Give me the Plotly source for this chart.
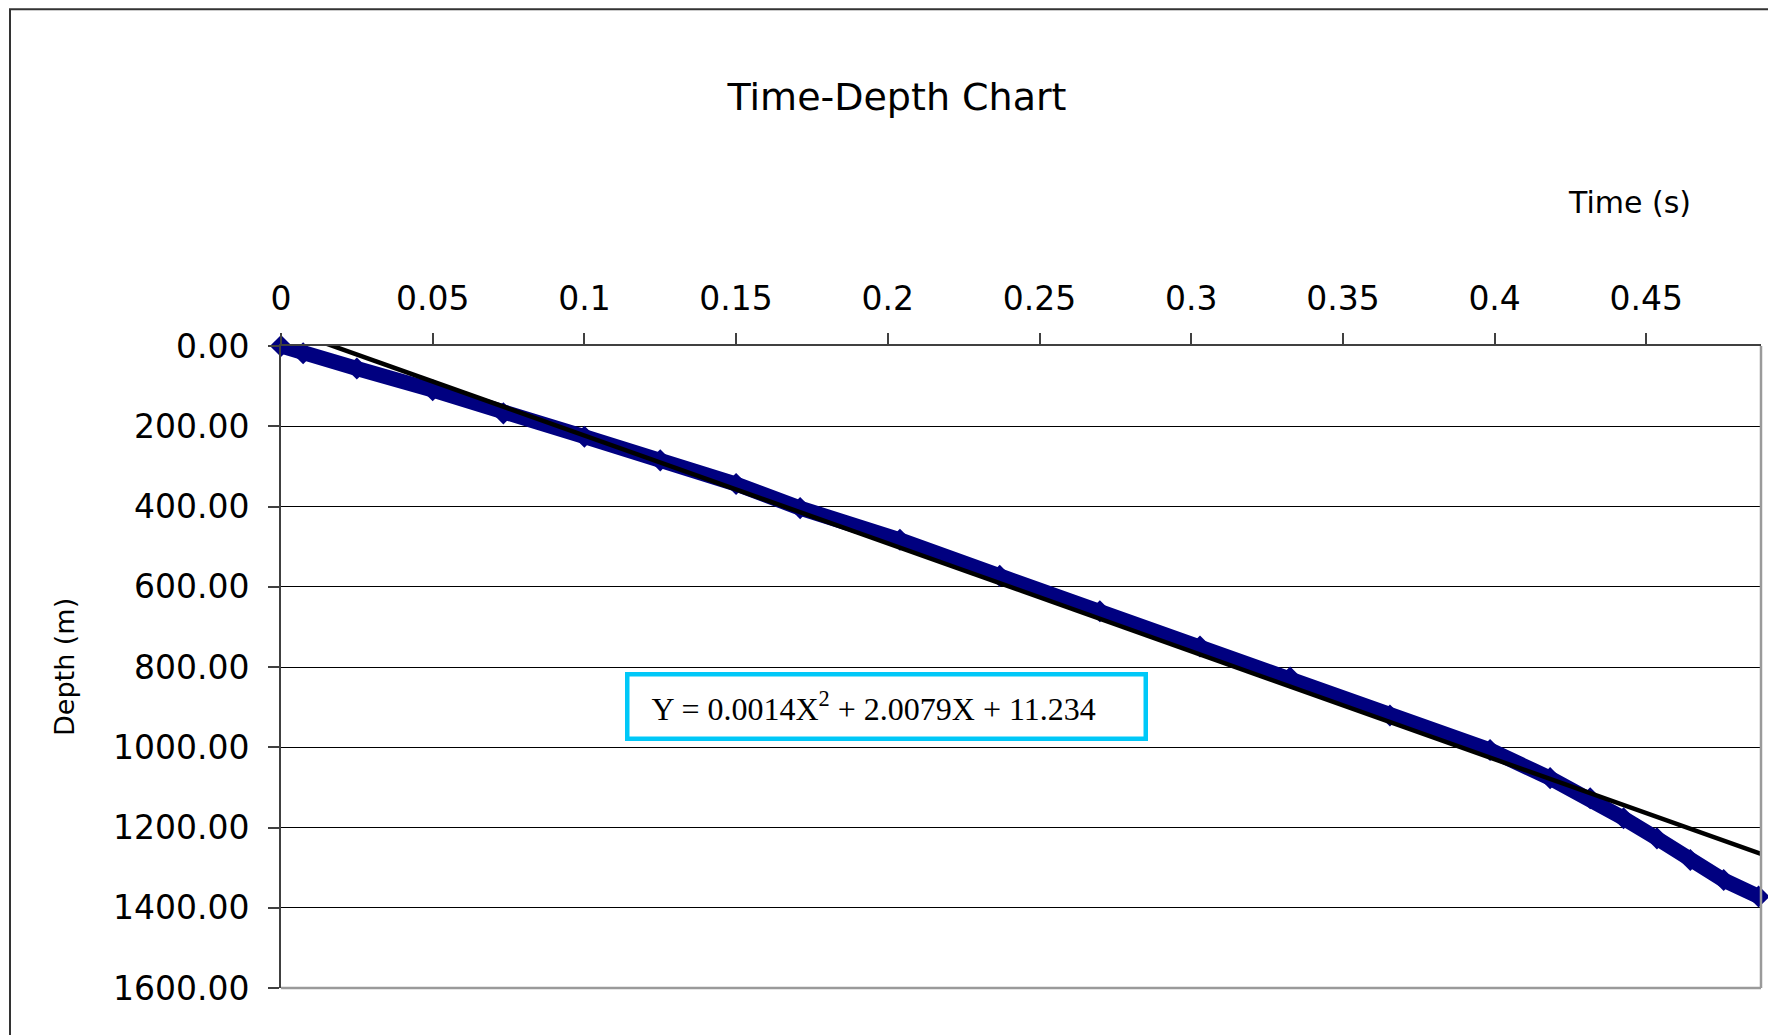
import plotly.graph_objects as go

# ---- data ----
time_s = [0.0, 0.0073, 0.025, 0.05, 0.0733, 0.1, 0.125, 0.15, 0.1711, 0.204,
          0.2369, 0.2699, 0.3029, 0.3326, 0.3655, 0.3985, 0.4183, 0.4315,
          0.4425, 0.4535, 0.4645, 0.4755, 0.487]
depth_m = [0, 18, 56, 110, 168, 226, 285, 344, 404, 483,
           573, 661, 749, 826, 921, 1007, 1077, 1127,
           1177, 1227, 1281, 1331, 1372]

trend_time = [0.0, 0.4878]
trend_depth = [-46, 1266]

x_tick_vals = [0, 0.05, 0.1, 0.15, 0.2, 0.25, 0.3, 0.35, 0.4, 0.45]
x_tick_text = ["0", "0.05", "0.1", "0.15", "0.2", "0.25", "0.3", "0.35", "0.4", "0.45"]
y_tick_vals = [0, 200, 400, 600, 800, 1000, 1200, 1400, 1600]

title_text = "Time-Depth Chart"
x_title = "Time (s)"
y_title = "Depth (m)"
equation = "&nbsp;&nbsp;Y = 0.0014X<sup>2</sup> + 2.0079X + 11.234"

OFF = 8  # page body margin
W, H = 1776 - OFF, 1035 - OFF
L, R, T, B = 281 - OFF, 15, 346 - OFF, 47
pw = W - L - R
ph = H - T - B

def px_x(sx):
    return (sx - OFF - L) / pw

def px_y(sy):
    return (H - B - (sy - OFF)) / ph

SANS = "DejaVu Sans"

fig = go.Figure()
fig.add_trace(go.Scatter(
    x=time_s, y=depth_m, mode="lines+markers",
    line=dict(color="#000080", width=15),
    marker=dict(symbol="diamond", size=17, color="#000080"),
    cliponaxis=False, showlegend=False, name="Depth"))
fig.add_trace(go.Scatter(
    x=trend_time, y=trend_depth, mode="lines",
    line=dict(color="#000000", width=4.5),
    showlegend=False, name="Trend"))

fig.update_layout(
    width=W, height=H,
    margin=dict(l=L, r=R, t=T, b=B, pad=0),
    paper_bgcolor="white", plot_bgcolor="white",
    font=dict(family=SANS, color="#000000"),
    title=dict(text=title_text, x=(897 - OFF) / W, y=1 - (96.5 - OFF) / H,
               xref="container", yref="container",
               xanchor="center", yanchor="middle",
               font=dict(family=SANS, size=38, color="#000000")),
    xaxis=dict(side="top", range=[0, 0.4878], tickvals=x_tick_vals,
               ticktext=x_tick_text, ticks="outside", ticklen=11,
               tickwidth=1.5, tickcolor="#404040", showline=True,
               linecolor="#404040", linewidth=2, showgrid=False,
               zeroline=False, automargin=False, ticklabelstandoff=10,
               tickfont=dict(family=SANS, size=33, color="#000000")),
    yaxis=dict(range=[1600, 0], tickvals=y_tick_vals, tickformat=".2f",
               ticks="outside", ticklen=11, tickwidth=1.5,
               tickcolor="#404040", showline=True, linecolor="#404040",
               linewidth=2, showgrid=True, gridcolor="#000000",
               gridwidth=1.3, zeroline=False, automargin=False,
               ticklabelstandoff=12,
               tickfont=dict(family=SANS, size=33, color="#000000")),
)

# right and bottom frame of plot area (light grey)
fig.add_shape(type="line", xref="paper", yref="paper", x0=1, x1=1, y0=0, y1=1,
              line=dict(color="#9a9a9a", width=2.5))
fig.add_shape(type="line", xref="paper", yref="paper", x0=0, x1=1, y0=0, y1=0,
              line=dict(color="#9a9a9a", width=2.5))
# outer chart border
fig.add_shape(type="rect", xref="paper", yref="paper",
              x0=px_x(10), x1=px_x(1800), y0=px_y(1060), y1=px_y(9.2),
              line=dict(color="#333333", width=2), fillcolor="rgba(0,0,0,0)")

fig.add_annotation(text=x_title, xref="paper", yref="paper",
                   x=px_x(1629.5), y=px_y(203), showarrow=False,
                   xanchor="center", yanchor="middle",
                   font=dict(family=SANS, size=30, color="#000000"))
fig.add_annotation(text=y_title, xref="paper", yref="paper",
                   x=px_x(64), y=px_y(667), showarrow=False, textangle=-90,
                   xanchor="center", yanchor="middle",
                   font=dict(family=SANS, size=27, color="#000000"))
fig.add_annotation(text=equation, xref="paper", yref="paper",
                   x=px_x(886), y=px_y(706), showarrow=False,
                   xanchor="center", yanchor="middle", align="left",
                   width=502, height=48, borderpad=6, borderwidth=4.5,
                   bordercolor="#00c8f8", bgcolor="white",
                   font=dict(family="Liberation Serif", size=32, color="#000000"))

fig.write_html("out.html")
